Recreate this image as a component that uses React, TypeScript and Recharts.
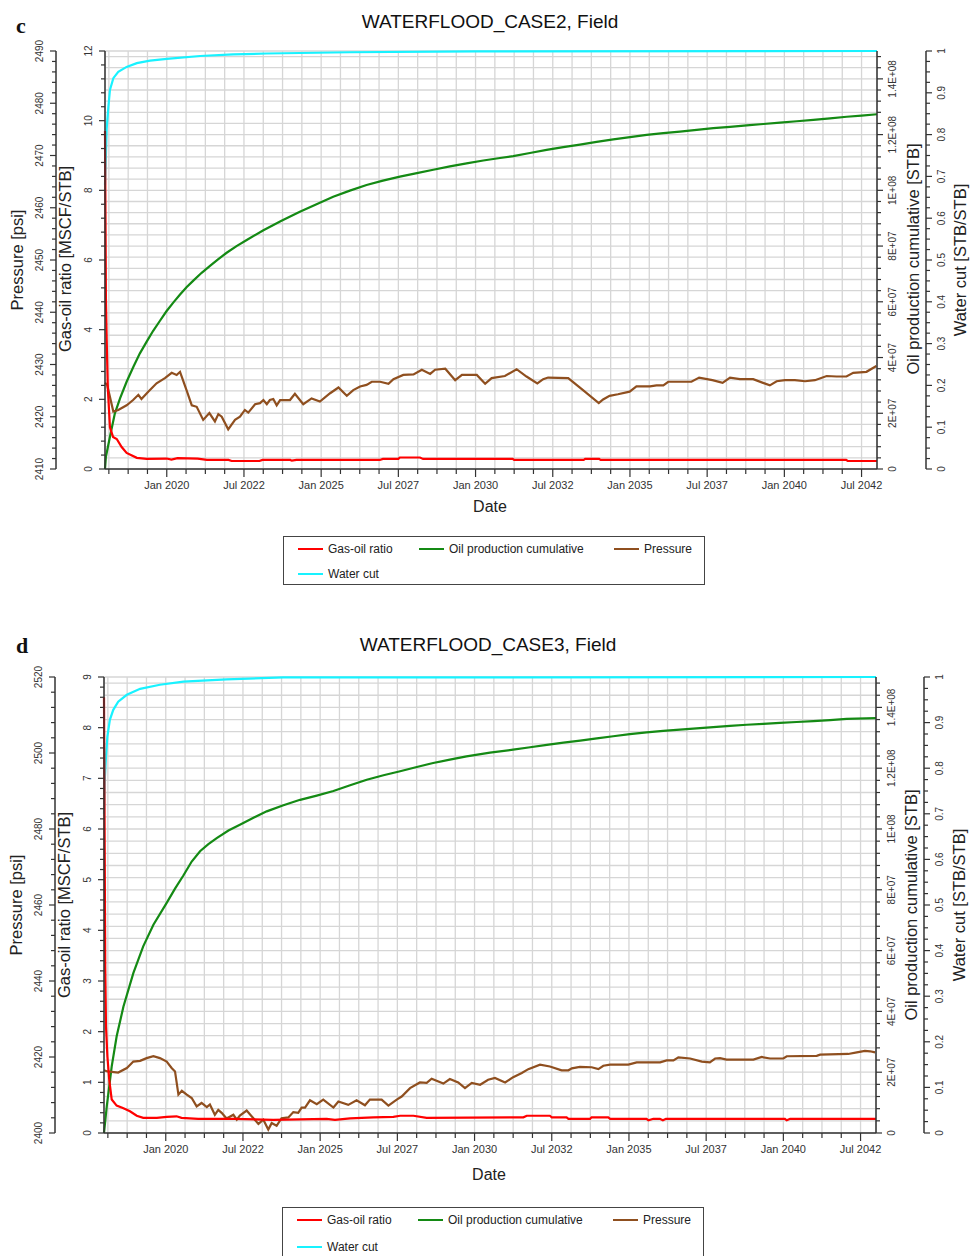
import React from 'react';
import { LineChart, Line, XAxis, YAxis, CartesianGrid } from 'recharts';

type Pt = [number, number]; // [decimal year, value]

// x axis labels
const dateTickValues = [2020, 2022.5, 2025, 2027.5, 2030, 2032.5, 2035, 2037.5, 2040, 2042.5];
const dateTickLabels = [
  'Jan 2020', 'Jul 2022', 'Jan 2025', 'Jul 2027', 'Jan 2030',
  'Jul 2032', 'Jan 2035', 'Jul 2037', 'Jan 2040', 'Jul 2042',
];

const seriesNames = ['Gas-oil ratio', 'Oil production cumulative', 'Pressure', 'Water cut'];
const seriesColors = ['#ff0000', '#148a14', '#8f4f1f', '#18f2ff'];

// ---- WATERFLOOD_CASE2 (panel c) ----
const gorCase2: Pt[] = [
  [2018.0, 9.7], [2018.03, 4.9], [2018.055, 3.7], [2018.09, 2.35], [2018.16, 1.2],
  [2018.26, 0.92], [2018.38, 0.86], [2018.54, 0.63], [2018.7, 0.46], [2019.03, 0.32],
  [2019.35, 0.29], [2020.0, 0.3], [2020.15, 0.27], [2020.35, 0.31], [2021.0, 0.3],
  [2021.3, 0.26], [2022.0, 0.26], [2022.1, 0.23], [2023.0, 0.23], [2023.1, 0.26],
  [2024.0, 0.26], [2024.05, 0.24], [2024.2, 0.26], [2026.9, 0.26], [2027.0, 0.29],
  [2027.5, 0.29], [2027.55, 0.33], [2028.2, 0.33], [2028.3, 0.29], [2031.2, 0.29],
  [2031.25, 0.26], [2033.5, 0.26], [2033.55, 0.29], [2034.0, 0.29], [2034.05, 0.26],
  [2042.0, 0.26], [2042.05, 0.23], [2043.0, 0.23],
];

const oilCase2: Pt[] = [
  [2018.0, 0], [2018.03, 4.4e6], [2018.16, 1.16e7], [2018.32, 2.0e7], [2018.49, 2.54e7],
  [2018.7, 3.13e7], [2018.92, 3.67e7], [2019.13, 4.15e7], [2019.35, 4.57e7], [2019.56, 4.96e7],
  [2019.78, 5.32e7], [2019.99, 5.66e7], [2020.21, 5.97e7], [2020.43, 6.26e7], [2020.64, 6.52e7],
  [2020.86, 6.76e7], [2021.13, 7.04e7], [2021.4, 7.29e7], [2021.67, 7.53e7], [2021.94, 7.76e7],
  [2022.26, 8.0e7], [2022.59, 8.22e7], [2023.13, 8.57e7], [2023.7, 8.9e7], [2024.31, 9.23e7],
  [2024.85, 9.5e7], [2025.39, 9.77e7], [2025.93, 9.99e7], [2026.47, 1.019e8], [2027.0, 1.035e8],
  [2027.55, 1.049e8], [2028.1, 1.062e8], [2028.63, 1.074e8], [2029.17, 1.086e8], [2029.71, 1.097e8],
  [2030.25, 1.107e8], [2030.79, 1.116e8], [2031.22, 1.123e8], [2031.76, 1.134e8], [2032.3, 1.145e8],
  [2032.84, 1.155e8], [2033.38, 1.164e8], [2033.92, 1.174e8], [2034.46, 1.183e8], [2035.0, 1.191e8],
  [2035.54, 1.199e8], [2036.08, 1.205e8], [2036.62, 1.211e8], [2037.16, 1.217e8], [2037.7, 1.223e8],
  [2038.24, 1.228e8], [2038.78, 1.233e8], [2039.32, 1.238e8], [2039.86, 1.243e8], [2040.4, 1.248e8],
  [2040.94, 1.253e8], [2041.48, 1.258e8], [2042.02, 1.264e8], [2042.5, 1.268e8], [2043.0, 1.273e8],
];

const presCase2: Pt[] = [
  [2018.0, 2426.5], [2018.07, 2426.1], [2018.27, 2421.0], [2018.43, 2421.3], [2018.7, 2422.2],
  [2018.91, 2423.2], [2019.08, 2424.2], [2019.18, 2423.4], [2019.4, 2424.8], [2019.67, 2426.4],
  [2019.94, 2427.4], [2020.16, 2428.4], [2020.32, 2428.0], [2020.43, 2428.6], [2020.64, 2425.1],
  [2020.81, 2422.2], [2020.97, 2421.9], [2021.18, 2419.4], [2021.38, 2420.7], [2021.56, 2419.1],
  [2021.67, 2420.5], [2021.78, 2420.0], [2021.99, 2417.6], [2022.21, 2419.4], [2022.37, 2420.0],
  [2022.53, 2421.3], [2022.64, 2420.8], [2022.86, 2422.4], [2023.02, 2422.6], [2023.13, 2423.2],
  [2023.24, 2422.4], [2023.34, 2423.2], [2023.45, 2423.4], [2023.56, 2422.2], [2023.67, 2423.2],
  [2023.99, 2423.2], [2024.15, 2424.4], [2024.42, 2422.4], [2024.69, 2423.5], [2024.96, 2422.9],
  [2025.29, 2424.5], [2025.56, 2425.6], [2025.83, 2424.0], [2026.04, 2425.1], [2026.26, 2425.8],
  [2026.47, 2426.1], [2026.64, 2426.7], [2026.91, 2426.7], [2027.18, 2426.3], [2027.34, 2427.2],
  [2027.66, 2428.0], [2027.99, 2428.1], [2028.26, 2429.0], [2028.53, 2428.2], [2028.69, 2429.0],
  [2029.02, 2429.2], [2029.34, 2427.0], [2029.56, 2428.0], [2030.04, 2428.0], [2030.31, 2426.3],
  [2030.52, 2427.4], [2030.95, 2427.8], [2031.33, 2429.1], [2031.65, 2427.7], [2032.0, 2426.4],
  [2032.19, 2427.2], [2032.35, 2427.5], [2033.0, 2427.4], [2033.48, 2425.1], [2033.99, 2422.6],
  [2034.13, 2423.3], [2034.34, 2424.0], [2034.61, 2424.3], [2034.99, 2424.8], [2035.21, 2425.8],
  [2035.65, 2425.8], [2035.86, 2426.0], [2036.08, 2426.0], [2036.24, 2426.7], [2036.99, 2426.7],
  [2037.24, 2427.5], [2037.67, 2427.0], [2038.0, 2426.5], [2038.24, 2427.5], [2038.56, 2427.2],
  [2038.99, 2427.2], [2039.53, 2426.0], [2039.75, 2426.8], [2040.02, 2427.0], [2040.34, 2427.0],
  [2040.67, 2426.8], [2040.99, 2427.0], [2041.37, 2427.8], [2041.69, 2427.7], [2042.01, 2427.7],
  [2042.23, 2428.4], [2042.66, 2428.6], [2042.98, 2429.7],
];

const wcutCase2: Pt[] = [
  [2018.0, 0.68], [2018.03, 0.75], [2018.055, 0.815], [2018.11, 0.867], [2018.16, 0.907],
  [2018.27, 0.935], [2018.43, 0.95], [2018.7, 0.962], [2019.03, 0.971], [2019.46, 0.977],
  [2020.0, 0.981], [2021.08, 0.988], [2022.15, 0.992], [2023.24, 0.994], [2025.93, 0.997],
  [2030.0, 0.999], [2043.0, 1.0],
];

// ---- WATERFLOOD_CASE3 (panel d) ----
const gorCase3: Pt[] = [
  [2018.0, 8.6], [2018.04, 3.29], [2018.065, 2.1], [2018.11, 1.51], [2018.17, 1.05],
  [2018.25, 0.66], [2018.41, 0.54], [2018.63, 0.49], [2018.84, 0.43], [2019.06, 0.34],
  [2019.27, 0.3], [2019.71, 0.3], [2020.03, 0.32], [2020.35, 0.33], [2020.51, 0.3],
  [2021.05, 0.28], [2022.19, 0.28], [2023.48, 0.26], [2025.21, 0.28], [2025.48, 0.26],
  [2025.97, 0.29], [2026.72, 0.31], [2027.37, 0.32], [2027.59, 0.34], [2028.02, 0.34],
  [2028.45, 0.3], [2031.58, 0.31], [2031.69, 0.34], [2032.44, 0.34], [2032.5, 0.31],
  [2032.98, 0.31], [2033.04, 0.28], [2033.74, 0.28], [2033.79, 0.31], [2034.33, 0.31],
  [2034.39, 0.28], [2035.57, 0.28], [2035.63, 0.25], [2035.79, 0.28], [2036.0, 0.28],
  [2036.1, 0.25], [2036.2, 0.28], [2040.05, 0.28], [2040.11, 0.25], [2040.22, 0.28],
  [2043.0, 0.28],
];

const oilCase3: Pt[] = [
  [2018.0, 0], [2018.09, 8.8e6], [2018.25, 2.19e7], [2018.41, 3.18e7], [2018.63, 4.16e7],
  [2018.95, 5.26e7], [2019.27, 6.14e7], [2019.6, 6.85e7], [2020.03, 7.57e7], [2020.3, 8.04e7],
  [2020.57, 8.47e7], [2020.84, 8.93e7], [2021.11, 9.27e7], [2021.38, 9.5e7], [2021.65, 9.7e7],
  [2022.03, 9.95e7], [2022.4, 1.014e8], [2022.84, 1.037e8], [2023.27, 1.058e8], [2023.81, 1.078e8],
  [2024.35, 1.096e8], [2024.89, 1.11e8], [2025.43, 1.125e8], [2025.97, 1.144e8], [2026.51, 1.162e8],
  [2027.05, 1.177e8], [2027.59, 1.19e8], [2028.13, 1.204e8], [2028.66, 1.217e8], [2029.2, 1.228e8],
  [2029.74, 1.239e8], [2030.5, 1.251e8], [2031.25, 1.261e8], [2031.8, 1.269e8], [2032.34, 1.277e8],
  [2032.88, 1.284e8], [2033.42, 1.291e8], [2033.96, 1.298e8], [2034.49, 1.305e8], [2035.03, 1.312e8],
  [2035.57, 1.318e8], [2036.11, 1.323e8], [2036.65, 1.327e8], [2037.19, 1.331e8], [2037.73, 1.335e8],
  [2038.27, 1.339e8], [2038.81, 1.343e8], [2039.35, 1.346e8], [2039.89, 1.349e8], [2040.43, 1.352e8],
  [2040.97, 1.355e8], [2041.51, 1.358e8], [2042.05, 1.362e8], [2043.0, 1.365e8],
];

const presCase3: Pt[] = [
  [2018.0, 2416.5], [2018.11, 2416.2], [2018.46, 2415.9], [2018.74, 2417.1], [2018.95, 2418.8],
  [2019.17, 2419.0], [2019.38, 2419.7], [2019.6, 2420.2], [2019.81, 2419.7], [2020.03, 2418.8],
  [2020.19, 2417.1], [2020.3, 2416.2], [2020.41, 2410.1], [2020.52, 2411.1], [2020.68, 2410.1],
  [2020.84, 2409.2], [2021.0, 2407.0], [2021.16, 2407.9], [2021.33, 2406.8], [2021.43, 2407.5],
  [2021.59, 2404.8], [2021.7, 2406.1], [2021.81, 2405.3], [2021.97, 2403.8], [2022.19, 2404.8],
  [2022.3, 2403.5], [2022.4, 2404.6], [2022.62, 2405.9], [2022.78, 2404.4], [2023.0, 2402.4],
  [2023.16, 2403.5], [2023.32, 2400.9], [2023.43, 2402.6], [2023.59, 2401.9], [2023.75, 2403.9],
  [2023.97, 2404.1], [2024.13, 2405.5], [2024.29, 2405.3], [2024.4, 2406.7], [2024.51, 2406.7],
  [2024.67, 2408.6], [2024.89, 2407.6], [2025.1, 2408.8], [2025.43, 2406.7], [2025.59, 2408.3],
  [2025.91, 2407.4], [2026.18, 2408.6], [2026.45, 2407.3], [2026.61, 2408.8], [2026.99, 2408.8],
  [2027.21, 2407.2], [2027.48, 2408.8], [2027.64, 2409.6], [2027.91, 2411.8], [2028.23, 2413.3],
  [2028.45, 2413.2], [2028.61, 2414.3], [2028.99, 2413.0], [2029.2, 2414.2], [2029.47, 2413.3],
  [2029.69, 2411.8], [2029.91, 2413.2], [2030.18, 2412.7], [2030.44, 2414.0], [2030.66, 2414.5],
  [2030.99, 2413.3], [2031.25, 2414.7], [2031.53, 2415.8], [2031.74, 2416.8], [2032.12, 2418.0],
  [2032.44, 2417.5], [2032.82, 2416.5], [2033.04, 2416.5], [2033.15, 2417.0], [2033.41, 2417.4],
  [2033.79, 2417.3], [2034.01, 2416.8], [2034.17, 2417.7], [2034.39, 2418.0], [2034.98, 2418.0],
  [2035.25, 2418.6], [2036.01, 2418.6], [2036.22, 2419.1], [2036.44, 2419.1], [2036.6, 2419.9],
  [2036.98, 2419.6], [2037.36, 2418.8], [2037.62, 2418.6], [2037.79, 2419.6], [2037.95, 2419.7],
  [2038.16, 2419.3], [2039.03, 2419.3], [2039.3, 2420.0], [2039.57, 2419.6], [2040.0, 2419.6],
  [2040.11, 2420.2], [2041.08, 2420.3], [2041.19, 2420.6], [2042.1, 2420.8], [2042.38, 2421.2],
  [2042.64, 2421.6], [2042.81, 2421.5], [2042.97, 2421.2],
];

const wcutCase3: Pt[] = [
  [2018.0, 0.7], [2018.03, 0.782], [2018.065, 0.826], [2018.11, 0.87], [2018.19, 0.906],
  [2018.3, 0.928], [2018.46, 0.946], [2018.74, 0.961], [2019.17, 0.974], [2019.81, 0.983],
  [2020.57, 0.99], [2021.97, 0.995], [2023.81, 0.999], [2043.0, 1.0],
];

// tick helpers
const steps = (from: number, to: number, step: number) => {
  const n = Math.round((to - from) / step);
  return Array.from({ length: n + 1 }, (_, i) => +(from + i * step).toFixed(6));
};

const timeTicks = steps(2018.125, 2042.5, 0.625);
const oilTicks = steps(0, 1.48e8, 4e6);
const wcutTicks = steps(0, 1, 0.025);

const sci = (v: number) => {
  if (v === 0) return '0';
  const e = Math.floor(Math.log10(v) + 1e-9);
  const m = Math.round((v / 10 ** e) * 10) / 10;
  return `${m}E+${String(e).padStart(2, '0')}`;
};
const plain = (v: number) => String(v);
const frac = (v: number) => (v === 0 || v === 1 ? String(v) : v.toFixed(1));

const INK = '#333';
const FONT = '"Liberation Sans", Arial, sans-serif';
const axisLine = { stroke: INK, strokeWidth: 1.5 };

const YTick = (props: any) => {
  const { x, y, payload, side, base, labelStep, fmt } = props;
  const v = payload.value;
  const k = (v - base) / labelStep;
  const major = Math.abs(k - Math.round(k)) < 1e-6;
  const dir = side === 'left' ? -1 : 1;
  const tx = side === 'left' ? x - 13 : x + 19;
  return (
    <g>
      <line x1={x} x2={x + dir * (major ? 6 : 4)} y1={y} y2={y} stroke={INK} strokeWidth={1.2} />
      {major && (
        <text
          x={tx}
          y={y}
          transform={`rotate(-90 ${tx} ${y})`}
          textAnchor="middle"
          fontSize={10}
          fontFamily={FONT}
          fill={INK}
        >
          {fmt(v)}
        </text>
      )}
    </g>
  );
};

const XTick = (props: any) => {
  const { x, y, payload } = props;
  const idx = dateTickValues.indexOf(payload.value);
  const major = idx >= 0;
  return (
    <g>
      <line x1={x} x2={x} y1={y} y2={y + (major ? 8 : 5)} stroke={INK} strokeWidth={1.2} />
      {major && (
        <text x={x} y={y + 20} textAnchor="middle" fontSize={11} fontFamily={FONT} fill={INK}>
          {dateTickLabels[idx]}
        </text>
      )}
    </g>
  );
};

interface PanelProps {
  top: number;
  height: number;
  presDomain: [number, number];
  presStep: number;
  presLabel: number;
  presWidth: number;
  gorDomain: [number, number];
  gorStep: number;
  gorLabel: number;
  oilWidth: number;
  wcutWidth: number;
  gor: Pt[];
  oil: Pt[];
  pres: Pt[];
  wcut: Pt[];
}

const rows = (pts: Pt[]) => pts.map(([t, v]) => ({ t, v }));

function Panel(p: PanelProps) {
  const yTick = (side: string, base: number, labelStep: number, fmt: (v: number) => string) =>
    (props: any) => <YTick {...props} side={side} base={base} labelStep={labelStep} fmt={fmt} />;

  return (
    <div style={{ position: 'absolute', left: 0, top: p.top }}>
      <LineChart width={970} height={p.height} margin={{ top: 51, right: 4, bottom: 1, left: 10 }}>
        <CartesianGrid xAxisId="t" yAxisId="oil" stroke="#d6d6d6" strokeWidth={1.3} />
        <XAxis
          xAxisId="t"
          dataKey="t"
          type="number"
          domain={[2018, 2043]}
          ticks={timeTicks}
          interval={0}
          height={50}
          tickSize={0}
          tickMargin={0}
          tickLine={false}
          axisLine={axisLine}
          tick={(props: any) => <XTick {...props} />}
        />
        <YAxis
          yAxisId="gor"
          orientation="left"
          width={49}
          domain={p.gorDomain}
          ticks={steps(p.gorDomain[0], p.gorDomain[1], p.gorStep)}
          interval={0}
          tickSize={0}
          tickMargin={0}
          tickLine={false}
          axisLine={axisLine}
          tick={yTick('left', p.gorDomain[0], p.gorLabel, plain)}
        />
        <YAxis
          yAxisId="pres"
          orientation="left"
          width={p.presWidth}
          domain={p.presDomain}
          ticks={steps(p.presDomain[0], p.presDomain[1], p.presStep)}
          interval={0}
          tickSize={0}
          tickMargin={0}
          tickLine={false}
          axisLine={axisLine}
          tick={yTick('left', p.presDomain[0], p.presLabel, plain)}
        />
        <YAxis
          yAxisId="oil"
          orientation="right"
          width={p.oilWidth}
          domain={[0, 1.5e8]}
          ticks={oilTicks}
          interval={0}
          tickSize={0}
          tickMargin={0}
          tickLine={false}
          axisLine={axisLine}
          tick={yTick('right', 0, 2e7, sci)}
        />
        <YAxis
          yAxisId="wcut"
          orientation="right"
          width={p.wcutWidth}
          domain={[0, 1]}
          ticks={wcutTicks}
          interval={0}
          tickSize={0}
          tickMargin={0}
          tickLine={false}
          axisLine={axisLine}
          tick={yTick('right', 0, 0.1, frac)}
        />
        <Line data={rows(p.oil)} dataKey="v" xAxisId="t" yAxisId="oil" stroke={seriesColors[1]}
          strokeWidth={2.2} dot={false} isAnimationActive={false} name={seriesNames[1]} />
        <Line data={rows(p.wcut)} dataKey="v" xAxisId="t" yAxisId="wcut" stroke={seriesColors[3]}
          strokeWidth={2.2} dot={false} isAnimationActive={false} name={seriesNames[3]} />
        <Line data={rows(p.pres)} dataKey="v" xAxisId="t" yAxisId="pres" stroke={seriesColors[2]}
          strokeWidth={2.2} dot={false} isAnimationActive={false} name={seriesNames[2]} />
        <Line data={rows(p.gor)} dataKey="v" xAxisId="t" yAxisId="gor" stroke={seriesColors[0]}
          strokeWidth={2.2} dot={false} isAnimationActive={false} name={seriesNames[0]} />
      </LineChart>
    </div>
  );
}

function LegendBox({ left, top, rowGap }: { left: number; top: number; rowGap: number }) {
  const slots = [
    { x: 14, row: 0 },
    { x: 135, row: 0 },
    { x: 330, row: 0 },
    { x: 14, row: 1 },
  ];
  return (
    <div
      style={{
        position: 'absolute',
        left,
        top,
        width: 422,
        height: 24 + rowGap,
        border: '1px solid #444',
        boxSizing: 'border-box',
        background: '#fff',
      }}
    >
      {seriesNames.map((name, i) => (
        <div
          key={name}
          style={{
            position: 'absolute',
            left: slots[i].x,
            top: 12 + slots[i].row * rowGap - 8,
            height: 16,
            display: 'flex',
            alignItems: 'center',
            whiteSpace: 'nowrap',
          }}
        >
          <span style={{ width: 25, height: 2, background: seriesColors[i], marginRight: 5 }} />
          <span style={{ fontSize: 12, color: '#222', fontFamily: FONT }}>{name}</span>
        </div>
      ))}
    </div>
  );
}

const VText = ({ x, y, children }: { x: number; y: number; children: React.ReactNode }) => (
  <text x={x} y={y} transform={`rotate(-90 ${x} ${y})`} textAnchor="middle" fontSize={16.5}
    fontFamily={FONT} fill="#222">
    {children}
  </text>
);

export default function App() {
  return (
    <div
      style={{
        position: 'absolute',
        left: 0,
        top: 0,
        width: 970,
        height: 1256,
        background: '#fff',
        overflow: 'hidden',
      }}
    >
      <Panel
        top={0}
        height={520}
        presDomain={[2410, 2490]}
        presStep={2}
        presLabel={10}
        presWidth={46}
        gorDomain={[0, 12]}
        gorStep={0.4}
        gorLabel={2}
        oilWidth={49}
        wcutWidth={40}
        gor={gorCase2}
        oil={oilCase2}
        pres={presCase2}
        wcut={wcutCase2}
      />
      <Panel
        top={626}
        height={558}
        presDomain={[2400, 2520]}
        presStep={4}
        presLabel={20}
        presWidth={45}
        gorDomain={[0, 9]}
        gorStep={0.2}
        gorLabel={1}
        oilWidth={48}
        wcutWidth={42}
        gor={gorCase3}
        oil={oilCase3}
        pres={presCase3}
        wcut={wcutCase3}
      />

      <svg
        width={970}
        height={1256}
        style={{ position: 'absolute', left: 0, top: 0, pointerEvents: 'none' }}
      >
        {/* panel c */}
        <text x={16} y={33} fontSize={22} fontWeight="bold" fontFamily='"Liberation Serif", serif' fill="#111">c</text>
        <text x={490} y={28} textAnchor="middle" fontSize={19} fontFamily={FONT} fill="#111">WATERFLOOD_CASE2, Field</text>
        <text x={490} y={512} textAnchor="middle" fontSize={16} fontFamily={FONT} fill="#222">Date</text>
        <VText x={23} y={260}>Pressure [psi]</VText>
        <VText x={71} y={259}>Gas-oil ratio [MSCF/STB]</VText>
        <VText x={919} y={259}>Oil production cumulative [STB]</VText>
        <VText x={966} y={260}>Water cut [STB/STB]</VText>

        {/* panel d */}
        <text x={16} y={653} fontSize={22} fontWeight="bold" fontFamily='"Liberation Serif", serif' fill="#111">d</text>
        <text x={488} y={651} textAnchor="middle" fontSize={19} fontFamily={FONT} fill="#111">WATERFLOOD_CASE3, Field</text>
        <text x={489} y={1180} textAnchor="middle" fontSize={16} fontFamily={FONT} fill="#222">Date</text>
        <VText x={22} y={905}>Pressure [psi]</VText>
        <VText x={70} y={905}>Gas-oil ratio [MSCF/STB]</VText>
        <VText x={917} y={905}>Oil production cumulative [STB]</VText>
        <VText x={965} y={905}>Water cut [STB/STB]</VText>
      </svg>

      <LegendBox left={283} top={536} rowGap={24.5} />
      <LegendBox left={282} top={1207} rowGap={26.5} />
    </div>
  );
}
